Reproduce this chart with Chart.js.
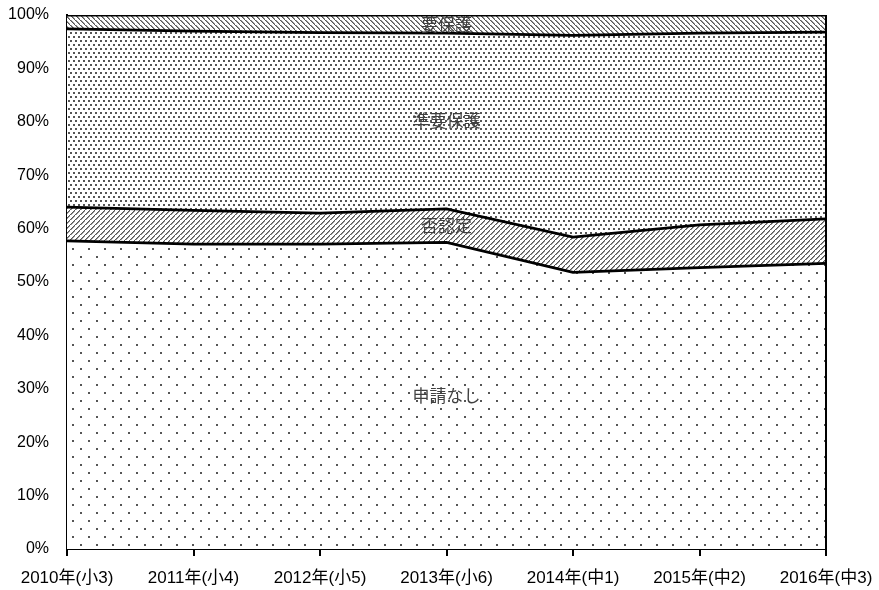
<!DOCTYPE html>
<html>
<head>
<meta charset="utf-8">
<script src="https://cdn.jsdelivr.net/npm/chart.js@4"></script>
<style>
html,body{margin:0;padding:0;background:#fff;}
#c{display:block;}
</style>
</head>
<body>
<canvas id="c" width="879" height="590"></canvas>
<script>
const categories = ['2010年(小3)','2011年(小4)','2012年(小5)','2013年(小6)','2014年(中1)','2015年(中2)','2016年(中3)'];
const noApplication = [57.7, 57.1, 57.1, 57.4, 51.8, 52.7, 53.5];   // 申請なし
const notApproved   = [6.3, 6.3, 5.8, 6.3, 6.6, 8.0, 8.3];          // 否認定
const quasiAid      = [33.4, 33.6, 33.8, 32.9, 37.8, 35.9, 35.0];   // 準要保護
const needAid       = [2.6, 3.0, 3.3, 3.4, 3.8, 3.4, 3.2];          // 要保護
const seriesNames   = ['申請なし','否認定','準要保護','要保護'];
const yTicks        = [0,10,20,30,40,50,60,70,80,90,100];

function makePattern(w, h, draw){
  const c = document.createElement('canvas');
  c.width = w; c.height = h;
  const g = c.getContext('2d');
  g.fillStyle = '#ffffff'; g.fillRect(0,0,w,h);
  g.fillStyle = '#555555';
  draw(g, w, h);
  return document.getElementById('c').getContext('2d').createPattern(c, 'repeat');
}
const sparseDots = makePattern(16,16,(g)=>{ g.fillRect(0,0,2,2); g.fillRect(8,8,2,2); });
const denseDots = makePattern(10,8,(g)=>{ g.fillRect(0,0,2,2); g.fillRect(5,0,2,2); g.fillRect(3,4,2,2); g.fillRect(8,4,2,2); });
const backHatch = makePattern(5,5,(g,w)=>{ for(let i=0;i<w;i++){ g.fillRect(i,i,1.6,1);} });
const fwdHatch = makePattern(5,5,(g,w)=>{ for(let i=0;i<w;i++){ g.fillRect(w-1-i,i,1.6,1);} });

const seriesData = [noApplication, notApproved, quasiAid, needAid];
const fills = [sparseDots, fwdHatch, denseDots, backHatch];

const datasets = seriesData.map((d,i)=>({
  label: seriesNames[i],
  data: d,
  fill: i===0 ? 'origin' : '-1',
  backgroundColor: fills[i],
  borderColor: '#000',
  borderWidth: 2.75,
  pointRadius: 0,
  tension: 0
}));

const areaLabels = {
  id: 'areaLabels',
  afterDatasetsDraw(chart){
    const ctx = chart.ctx;
    const xs = chart.scales.x, ys = chart.scales.y;
    const idx = 3;
    let base = 0;
    ctx.save();
    ctx.font = '17px "Noto Sans CJK JP"';
    ctx.fillStyle = '#404040';
    ctx.textAlign = 'center';
    ctx.textBaseline = 'middle';
    seriesData.forEach((d,i)=>{
      const mid = base + d[idx]/2;
      base += d[idx];
      ctx.fillText(seriesNames[i], xs.getPixelForValue(idx), ys.getPixelForValue(mid));
    });
    const a = chart.chartArea;
    ctx.strokeStyle = '#000';
    ctx.lineWidth = 2;
    ctx.beginPath();
    ctx.moveTo(a.right, a.top);
    ctx.lineTo(a.right, a.bottom);
    ctx.stroke();
    ctx.restore();
  }
};

const xFont = {family: '"Liberation Sans", "Noto Sans CJK JP", sans-serif', size: 17};
const yFont = {family: '"Liberation Sans", sans-serif', size: 16};

new Chart(document.getElementById('c'), {
  type: 'line',
  data: { labels: categories, datasets },
  options: {
    responsive: false,
    animation: false,
    layout: { padding: { top: 15, right: 53, left: 0, bottom: 0 } },
    plugins: { legend: {display:false}, tooltip: {enabled:false} },
    scales: {
      x: {
        offset: false,
        grid: { display: true, drawOnChartArea: false, drawTicks: true, tickLength: 7, color: '#000', lineWidth: 2 },
        border: { display: true, color: '#000', width: 2 },
        ticks: { color: '#000', font: xFont, padding: 12, maxRotation: 0, autoSkip: false },
        afterFit(s){ s.height = 41; s.paddingLeft = 0; s.paddingRight = 0; }
      },
      y: {
        stacked: true,
        min: 0, max: 100,
        afterBuildTicks(s){ s.ticks = yTicks.map(v=>({value:v})); },
        grid: { display: false },
        border: { display: true, color: '#000', width: 2 },
        ticks: { color: '#000', font: yFont, padding: 10, callback: v => v + '%' },
        afterFit(s){ s.width = 67; s.paddingTop = 0; s.paddingBottom = 0; }
      }
    }
  },
  plugins: [areaLabels]
});
</script>
</body>
</html>
